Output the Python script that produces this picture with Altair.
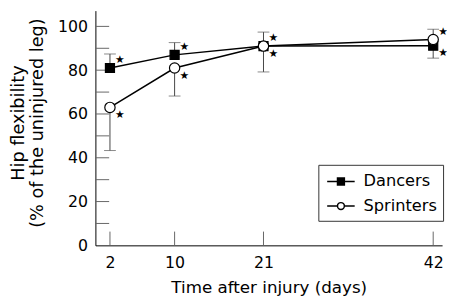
import altair as alt
import pandas as pd

days = [2, 10, 21, 42]
series_names = ["Dancers", "Sprinters"]
dancers = [81.0, 87.0, 91.0, 91.2]
dancers_bound = [87.4, 92.6, 97.4, 85.5]
sprinters = [63.0, 81.0, 91.0, 94.0]
sprinters_bound = [43.3, 68.2, 79.2, 98.7]
y_ticks = [10, 20, 30, 40, 50, 60, 70, 80, 90, 100]
y_labels = [0, 20, 40, 60, 80, 100]

rows = []
for d, v, b in zip(days, dancers, dancers_bound):
    rows.append({"day": d, "value": v, "bound": b, "series": "Dancers"})
for d, v, b in zip(days, sprinters, sprinters_bound):
    rows.append({"day": d, "value": v, "bound": b, "series": "Sprinters"})
df = pd.DataFrame(rows)

FONT = "DejaVu Sans"
xs = alt.Scale(domain=[0.2, 43.1], nice=False, zero=False)
ys = alt.Scale(domain=[0, 107.2], nice=False, zero=False)

X = alt.X("day:Q", scale=xs,
          axis=alt.Axis(values=days, ticks=False, grid=False, labelPadding=10,
                        domainColor="black", labelFontSize=16, titleFontSize=17,
                        labelFont=FONT, titleFont=FONT, labelColor="black",
                        titleColor="black", titleFontWeight="normal", titlePadding=9,
                        labelFlush=False),
          title="Time after injury (days)")
Y = alt.Y("value:Q", scale=ys,
          axis=alt.Axis(values=y_labels, ticks=False, grid=False, labelPadding=8,
                        domainColor="black", labelFontSize=16, titleFontSize=18,
                        labelFont=FONT, titleFont=FONT, labelColor="black",
                        titleColor="black", titleFontWeight="normal", titlePadding=11,
                        titleLineHeight=20, titleY=114),
          title=["Hip flexibility", "(% of the uninjured leg)"])

base = alt.Chart(df)

ytick_df = pd.DataFrame({"t": y_ticks})
xtick_df = pd.DataFrame({"t": days})
ytick_layer = alt.Chart(ytick_df).mark_rule(color="#666", strokeWidth=1).encode(
    y=alt.Y("t:Q", scale=ys), x=alt.value(0), x2=alt.value(14))
xtick_layer = alt.Chart(xtick_df).mark_rule(color="#666", strokeWidth=1).encode(
    x=alt.X("t:Q", scale=xs), y=alt.value(239), y2=alt.value(225))

err = base.mark_rule(color="#444", strokeWidth=1).encode(x=X, y=Y, y2="bound:Q")
caps = base.mark_tick(color="#555", orient="horizontal", size=12, thickness=1).encode(
    x=X, y=alt.Y("bound:Q", scale=ys))

lines = base.mark_line(color="black", strokeWidth=1.5).encode(
    x=X, y=Y, detail="series:N")

pts = base.mark_point(stroke="black", strokeWidth=1.2, opacity=1).encode(
    x=X, y=Y,
    shape=alt.Shape("series:N", scale=alt.Scale(domain=series_names, range=["square", "circle"]), legend=None),
    fill=alt.Fill("series:N", scale=alt.Scale(domain=series_names, range=["black", "white"]), legend=None),
    size=alt.Size("series:N", scale=alt.Scale(domain=series_names, range=[85, 110]), legend=None),
    order=alt.Order("series:N"),
)

stars_up = base.transform_filter("datum.bound > datum.value").mark_text(
    text="★", fontSize=11, font="DejaVu Sans", dx=10, dy=-8, baseline="middle", color="black"
).encode(x=X, y=Y)
stars_dn = base.transform_filter("datum.bound < datum.value").mark_text(
    text="★", fontSize=11, font="DejaVu Sans", dx=10, dy=8, baseline="middle", color="black"
).encode(x=X, y=Y)

sq_path = "M-0.8,0H2M0.25,-0.35H0.95V0.35H0.25Z"
ci_path = "M-0.8,0H0.25M0.95,0H2M0.25,0A0.35,0.35 0 1,0 0.95,0A0.35,0.35 0 1,0 0.25,0Z"
leg = dict(title=None, orient="none", legendX=227, legendY=157,
           strokeColor="#333", padding=6, labelFontSize=16.5,
           labelFont=FONT, labelColor="black", symbolSize=400,
           symbolStrokeWidth=1.5, labelOffset=18, rowPadding=5)
legend_layer = base.transform_filter("datum.value < 0").mark_point(
    strokeWidth=1.5, opacity=1, size=400
).encode(
    x=X, y=Y,
    shape=alt.Shape("series:N", scale=alt.Scale(domain=series_names, range=[sq_path, ci_path]),
                    legend=alt.Legend(**leg)),
    fill=alt.Fill("series:N", scale=alt.Scale(domain=series_names, range=["black", "white"]),
                  legend=alt.Legend(**leg)),
    stroke=alt.Stroke("series:N", scale=alt.Scale(domain=series_names, range=["black", "black"]),
                      legend=alt.Legend(**leg)),
)

chart = alt.layer(
    ytick_layer, xtick_layer, err, caps, lines, pts, stars_up, stars_dn, legend_layer
).resolve_scale(shape="independent", fill="independent", size="independent",
                stroke="independent").properties(
    width=353, height=239,
    autosize=alt.AutoSizeParams(type="none"),
    padding={"left": 89, "top": 0, "right": 5, "bottom": 55},
).configure_view(stroke=None).configure_axisLeft(domainWidth=1).configure_axisBottom(domainWidth=1)

chart.save("out.html", embed_options={"renderer": "svg", "actions": False})
